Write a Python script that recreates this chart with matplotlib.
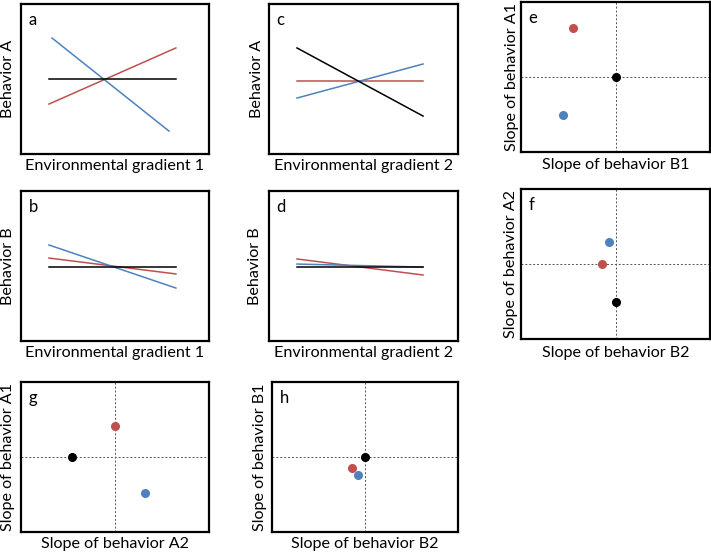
import matplotlib.pyplot as plt

plt.rcParams['font.family'] = ['Lato', 'DejaVu Sans']

RED = '#C0504D'
BLUE = '#4F81BD'
BLACK = '#000000'

# reaction norms: x start/end, y start/end (0..1 scale)
x_a = [0.149, 0.824]
a_black = [0.50, 0.50]
a_red = [0.333, 0.707]
a_blue_x = [0.165, 0.787]
a_blue = [0.773, 0.153]

x_b = [0.149, 0.824]
b_black = [0.493, 0.493]
b_red = [0.553, 0.447]
b_blue = [0.64, 0.353]

x_c = [0.148, 0.815]
c_black = [0.707, 0.253]
c_red = [0.487, 0.487]
c_blue = [0.373, 0.60]

x_d = [0.148, 0.815]
d_black = [0.493, 0.493]
d_red = [0.547, 0.44]
d_blue = [0.513, 0.493]

# slope scatter panels: (x, y) for black, red, blue
e_pts = {'x': [0.0, -0.45, -0.556], 'y': [0.0, 0.654, -0.506]}
f_pts = {'x': [0.0, -0.148, -0.074], 'y': [-0.507, 0.0, 0.293]}
g_pts = {'x': [-0.457, 0.0, 0.319], 'y': [0.0, 0.413, -0.48]}
h_pts = {'x': [0.0, -0.14, -0.075], 'y': [0.0, -0.147, -0.24]}
pt_colors = [BLACK, RED, BLUE]

W, H = 711, 555
FS = 11.6
fig = plt.figure(figsize=(W / 100, H / 100), dpi=100)


def make_ax(left, top, width, height):
    ax = fig.add_axes([left / W, 1 - (top + height) / H, width / W, height / H])
    ax.set_xticks([])
    ax.set_yticks([])
    for s in ax.spines.values():
        s.set_linewidth(1.6)
    return ax


def labels(ax, letter, xlab, ylab, xoff=-0.068, yoff=-0.08):
    ax.text(0.04, 0.895, letter, transform=ax.transAxes, fontsize=12, ha='left', va='center')
    ax.text(0.5, yoff, xlab, transform=ax.transAxes, fontsize=FS, ha='center', va='center')
    ax.text(xoff, 0.5, ylab, transform=ax.transAxes, fontsize=FS, ha='center', va='center',
            rotation=90)


def norm_panel(ax, xs, black, red, blue, blue_x=None):
    ax.set_xlim(0, 1)
    ax.set_ylim(0, 1)
    ax.plot(xs, red, color=RED, lw=1.1)
    ax.plot(blue_x if blue_x else xs, blue, color=BLUE, lw=1.1)
    ax.plot(xs, black, color=BLACK, lw=1.1)


def slope_panel(ax, pts):
    ax.set_xlim(-1, 1)
    ax.set_ylim(-1, 1)
    ax.axhline(0, color='#555555', lw=0.7, ls=(0, (2, 2)))
    ax.axvline(0, color='#555555', lw=0.7, ls=(0, (2, 2)))
    for x, y, c in zip(pts['x'], pts['y'], pt_colors):
        ax.plot(x, y, 'o', color=c, ms=5.5, zorder=3)


ax = make_ax(21, 4, 188, 150)
norm_panel(ax, x_a, a_black, a_red, a_blue, a_blue_x)
labels(ax, 'a', 'Environmental gradient 1', 'Behavior A')

ax = make_ax(269, 4, 189, 150)
norm_panel(ax, x_c, c_black, c_red, c_blue)
labels(ax, 'c', 'Environmental gradient 2', 'Behavior A', xoff=-0.063)

ax = make_ax(21, 191, 188, 150)
norm_panel(ax, x_b, b_black, b_red, b_blue)
labels(ax, 'b', 'Environmental gradient 1', 'Behavior B')

ax = make_ax(269, 191, 189, 150)
norm_panel(ax, x_d, d_black, d_red, d_blue)
labels(ax, 'd', 'Environmental gradient 2', 'Behavior B', xoff=-0.074)

ax = make_ax(521, 2, 189, 150)
slope_panel(ax, e_pts)
labels(ax, 'e', 'Slope of behavior B1', 'Slope of behavior A1', xoff=-0.048, yoff=-0.087)

ax = make_ax(521, 189, 189, 150)
slope_panel(ax, f_pts)
labels(ax, 'f', 'Slope of behavior B2', 'Slope of behavior A2', xoff=-0.053, yoff=-0.093)

ax = make_ax(21, 382, 188, 150)
slope_panel(ax, g_pts)
labels(ax, 'g', 'Slope of behavior A2', 'Slope of behavior A1', xoff=-0.069)

ax = make_ax(272, 382, 186, 150)
slope_panel(ax, h_pts)
labels(ax, 'h', 'Slope of behavior B2', 'Slope of behavior B1', xoff=-0.065)

fig.savefig('out.png', dpi=100)
